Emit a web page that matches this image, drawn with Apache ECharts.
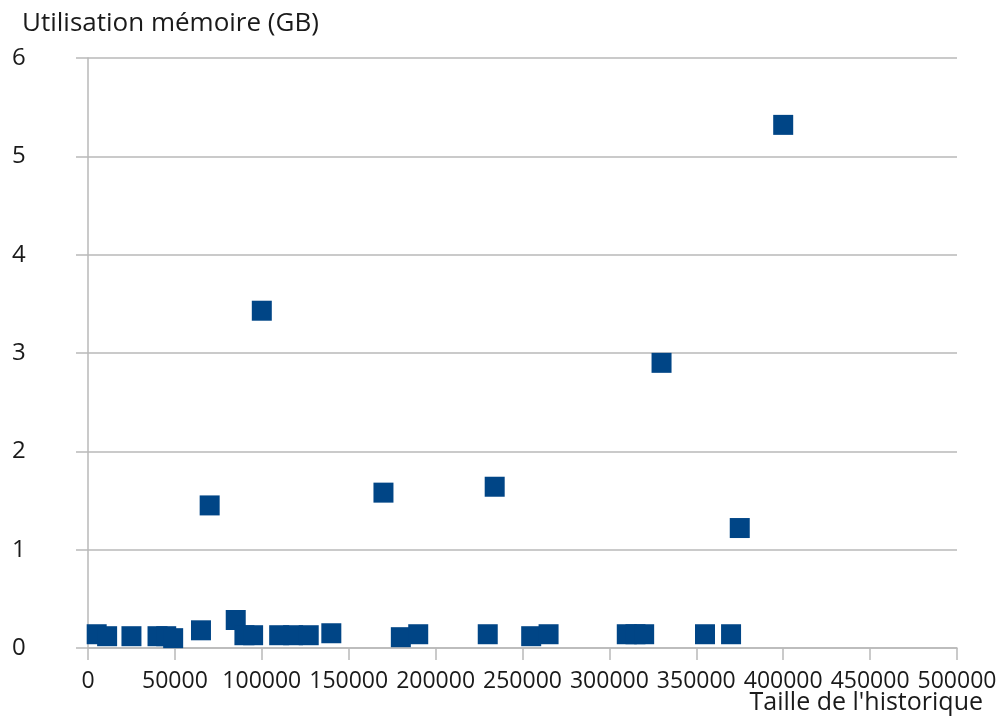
<!DOCTYPE html>
<html>
<head>
<meta charset="utf-8">
<script src="https://cdn.jsdelivr.net/npm/echarts@6.0.0/dist/echarts.min.js"></script>
<style>
html,body{margin:0;padding:0;background:#fff;}
#chart{width:1003px;height:724px;}
</style>
</head>
<body>
<div id="chart"></div>
<script>
// Data
const historySize = [5000, 11000, 25000, 40000, 45000, 49000, 65000, 70000, 85000, 90000, 95000, 100000,
  110000, 118000, 127000, 140000, 170000, 180000, 190000, 230000, 234000, 255000, 265000,
  310000, 315000, 320000, 330000, 355000, 370000, 375000, 400000];
const memoryGB = [0.14, 0.12, 0.12, 0.12, 0.12, 0.10, 0.18, 1.45, 0.285, 0.13, 0.13, 3.43,
  0.13, 0.13, 0.13, 0.15, 1.58, 0.11, 0.14, 0.14, 1.64, 0.12, 0.14,
  0.14, 0.14, 0.14, 2.90, 0.14, 0.14, 1.22, 5.32];
const yTitle = 'Utilisation mémoire (GB)';
const xTitle = "Taille de l'historique";

const points = historySize.map((x, i) => [x, memoryGB[i]]);
const FONT = '"Open Sans", sans-serif';
const GRID_COLOR = '#b9b9b9';

const chart = echarts.init(document.getElementById('chart'), null, {renderer: 'canvas'});
chart.setOption({
  animation: false,
  backgroundColor: '#ffffff',
  grid: {left: 88, right: 46, top: 58, bottom: 76, containLabel: false},
  xAxis: {
    type: 'value', min: 0, max: 500000, interval: 50000,
    axisLine: {show: true, lineStyle: {color: GRID_COLOR, width: 1.5}},
    axisTick: {show: true, inside: false, length: 12, lineStyle: {color: GRID_COLOR, width: 1.5}},
    splitLine: {show: false},
    axisLabel: {color: '#1a1a1a', fontFamily: FONT, fontSize: 23, margin: 22, hideOverlap: false,
      showMinLabel: true, showMaxLabel: true, formatter: v => String(v)}
  },
  yAxis: {
    type: 'value', min: 0, max: 6, interval: 1,
    axisLine: {show: true, lineStyle: {color: GRID_COLOR, width: 1.5}},
    axisTick: {show: true, inside: false, length: 12, lineStyle: {color: GRID_COLOR, width: 1.5}},
    splitLine: {show: true, lineStyle: {color: GRID_COLOR, width: 1.5}},
    axisLabel: {color: '#1a1a1a', fontFamily: FONT, fontSize: 24, margin: 76, align: 'left'}
  },
  graphic: [
    {type: 'text', left: 22, top: 11, style: {text: yTitle, fill: '#1a1a1a', font: '26px ' + FONT}},
    {type: 'text', right: 20, top: 690, style: {text: xTitle, fill: '#1a1a1a', font: '25px ' + FONT}}
  ],
  series: [{
    type: 'scatter',
    data: points,
    symbol: 'rect',
    symbolSize: 20,
    itemStyle: {color: '#004586', opacity: 1}
  }]
});
</script>
</body>
</html>
